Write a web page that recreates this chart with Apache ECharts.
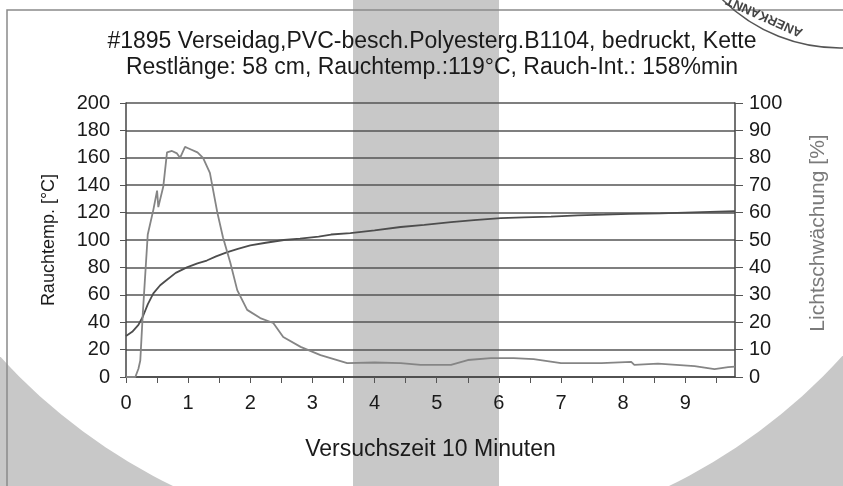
<!DOCTYPE html>
<html>
<head>
<meta charset="utf-8">
<script src="https://cdn.jsdelivr.net/npm/echarts@6/dist/echarts.min.js"></script>
<style>
html, body { margin: 0; padding: 0; background: #fff; }
#chart { width: 843px; height: 486px; }
</style>
</head>
<body>
<div id="chart"></div>
<script>
// Titel
var titleLines = [
    '#1895 Verseidag,PVC-besch.Polyesterg.B1104, bedruckt, Kette',
    'Restlänge: 58 cm, Rauchtemp.:119°C, Rauch-Int.: 158%min'
];

// Rauchtemperatur (linke Achse, °C)
var tempTime = [0, 0.1, 0.2, 0.27, 0.35, 0.44, 0.55, 0.66, 0.8, 0.98, 1.15, 1.3, 1.45, 1.62, 1.8, 2.0, 2.25, 2.54, 2.8, 3.1, 3.3, 3.61, 4.0, 4.42, 4.8, 5.23, 5.6, 6.03, 6.4, 6.84, 7.27, 7.7, 8.1, 8.6, 9.0, 9.4, 9.8];
var tempValue = [30, 33, 38, 44, 53, 61, 67, 71, 76, 80, 83, 85, 88, 91, 93.5, 96, 98, 100, 101, 102.5, 104, 105, 107, 109.5, 111, 113, 114.5, 116, 116.5, 117, 118, 118.5, 119, 119.5, 120, 120.5, 121];

// Lichtschwächung (rechte Achse, %)
var lightTime = [0, 0.15, 0.2, 0.23, 0.27, 0.35, 0.44, 0.5, 0.52, 0.6, 0.66, 0.74, 0.82, 0.87, 0.95, 1.0, 1.15, 1.24, 1.35, 1.47, 1.56, 1.68, 1.79, 1.95, 2.16, 2.37, 2.53, 2.81, 3.13, 3.56, 4.0, 4.42, 4.74, 5.23, 5.5, 5.87, 6.24, 6.56, 7.0, 7.65, 8.13, 8.18, 8.56, 9.15, 9.47, 9.69, 9.8];
var lightValue = [0, 0, 3, 6, 23, 52, 61, 68, 62, 69.5, 82, 82.5, 81.6, 80, 84, 83.5, 82, 80, 74.5, 60, 51, 41.6, 31.7, 24.5, 21.5, 19.7, 14.6, 11, 8, 5.1, 5.3, 5.1, 4.4, 4.4, 6.2, 6.9, 6.9, 6.5, 5.1, 5.1, 5.5, 4.4, 4.9, 4, 2.9, 3.6, 3.8];

function pairs(t, v) {
    var out = [];
    for (var i = 0; i < t.length; i++) {
        out.push([t[i], v[i]]);
    }
    return out;
}

var font = '"Liberation Sans", Arial, sans-serif';
var chart = echarts.init(document.getElementById('chart'));

var option = {
    backgroundColor: '#c8c8c8',
    animation: false,
    grid: { left: 126, right: 108, top: 103, bottom: 109 },
    graphic: [
        // heller Kreis + grauer Streifen (Scan)
        { type: 'circle', z: -20, silent: true, shape: { cx: 421, cy: -25, r: 568 }, style: { fill: '#fff' } },
        { type: 'rect', z: -19, silent: true, shape: { x: 353, y: 0, width: 146, height: 486 }, style: { fill: '#c8c8c8' } },
        { type: 'polyline', z: -18, silent: true, shape: { points: [[7, 486], [7, 10], [843, 10]] }, style: { stroke: '#8a8a8a', lineWidth: 1.5, fill: null } },
        // Stempel
        { type: 'circle', z: -18, silent: true, shape: { cx: 840, cy: -119, r: 167 }, style: { fill: null, stroke: '#555', lineWidth: 1.5 } },
        { type: 'text', z: 5, silent: true, x: 802, y: 33, rotation: 2.72, style: { text: 'ANERKANNT', font: 'bold 13px ' + font, fill: '#444', textAlign: 'left', textVerticalAlign: 'middle' } },
        { type: 'text', z: 5, silent: true, x: 432, y: 42, style: { text: titleLines[0], font: '23px ' + font, fill: '#1a1a1a', textAlign: 'center', textVerticalAlign: 'middle' } },
        { type: 'text', z: 5, silent: true, x: 432, y: 68, style: { text: titleLines[1], font: '23px ' + font, fill: '#1a1a1a', textAlign: 'center', textVerticalAlign: 'middle' } }
    ],
    xAxis: {
        type: 'value',
        min: 0,
        max: 9.8,
        interval: 0.5,
        name: 'Versuchszeit 10 Minuten',
        nameLocation: 'middle',
        nameGap: 61,
        nameTextStyle: { fontSize: 23, color: '#1a1a1a', fontFamily: font },
        axisLine: { show: true, lineStyle: { color: '#444', width: 1.5 } },
        axisTick: { show: true, inside: false, length: 6, lineStyle: { color: '#555' } },
        axisLabel: {
            margin: 16,
            fontSize: 20,
            color: '#1a1a1a',
            fontFamily: font,
            showMaxLabel: false,
            formatter: function (v) {
                return Math.abs(v - Math.round(v)) < 1e-6 ? String(Math.round(v)) : '';
            }
        },
        splitLine: { show: false }
    },
    yAxis: [
        {
            type: 'value',
            min: 0,
            max: 200,
            interval: 20,
            position: 'left',
            name: 'Rauchtemp. [°C]',
            nameLocation: 'middle',
            nameRotate: 90,
            nameGap: 68,
            nameTextStyle: { fontSize: 18, color: '#1a1a1a', fontFamily: font },
            axisLine: { show: true, lineStyle: { color: '#444', width: 1.5 } },
            axisTick: { show: true, length: 6, lineStyle: { color: '#555' } },
            axisLabel: { margin: 16, fontSize: 20, color: '#1a1a1a', fontFamily: font },
            splitLine: { show: true, lineStyle: { color: '#555', width: 1.5 } }
        },
        {
            type: 'value',
            min: 0,
            max: 100,
            interval: 10,
            position: 'right',
            name: 'Lichtschwächung [%]',
            nameLocation: 'middle',
            nameRotate: 90,
            nameGap: 73,
            nameTextStyle: { fontSize: 21, color: '#7a7a7a', fontFamily: font, padding: [0, 0, 0, 14] },
            axisLine: { show: true, lineStyle: { color: '#444', width: 1.5 } },
            axisTick: { show: true, length: 8, lineStyle: { color: '#555' } },
            axisLabel: { margin: 14, fontSize: 20, color: '#1a1a1a', fontFamily: font },
            splitLine: { show: false }
        }
    ],
    series: [
        {
            name: 'Rauchtemp.',
            type: 'line',
            yAxisIndex: 0,
            showSymbol: false,
            data: pairs(tempTime, tempValue),
            lineStyle: { color: '#4d4d4d', width: 1.8 }
        },
        {
            name: 'Lichtschwächung',
            type: 'line',
            yAxisIndex: 1,
            showSymbol: false,
            data: pairs(lightTime, lightValue),
            lineStyle: { color: '#858585', width: 1.8 }
        }
    ]
};
chart.setOption(option);
</script>
</body>
</html>
